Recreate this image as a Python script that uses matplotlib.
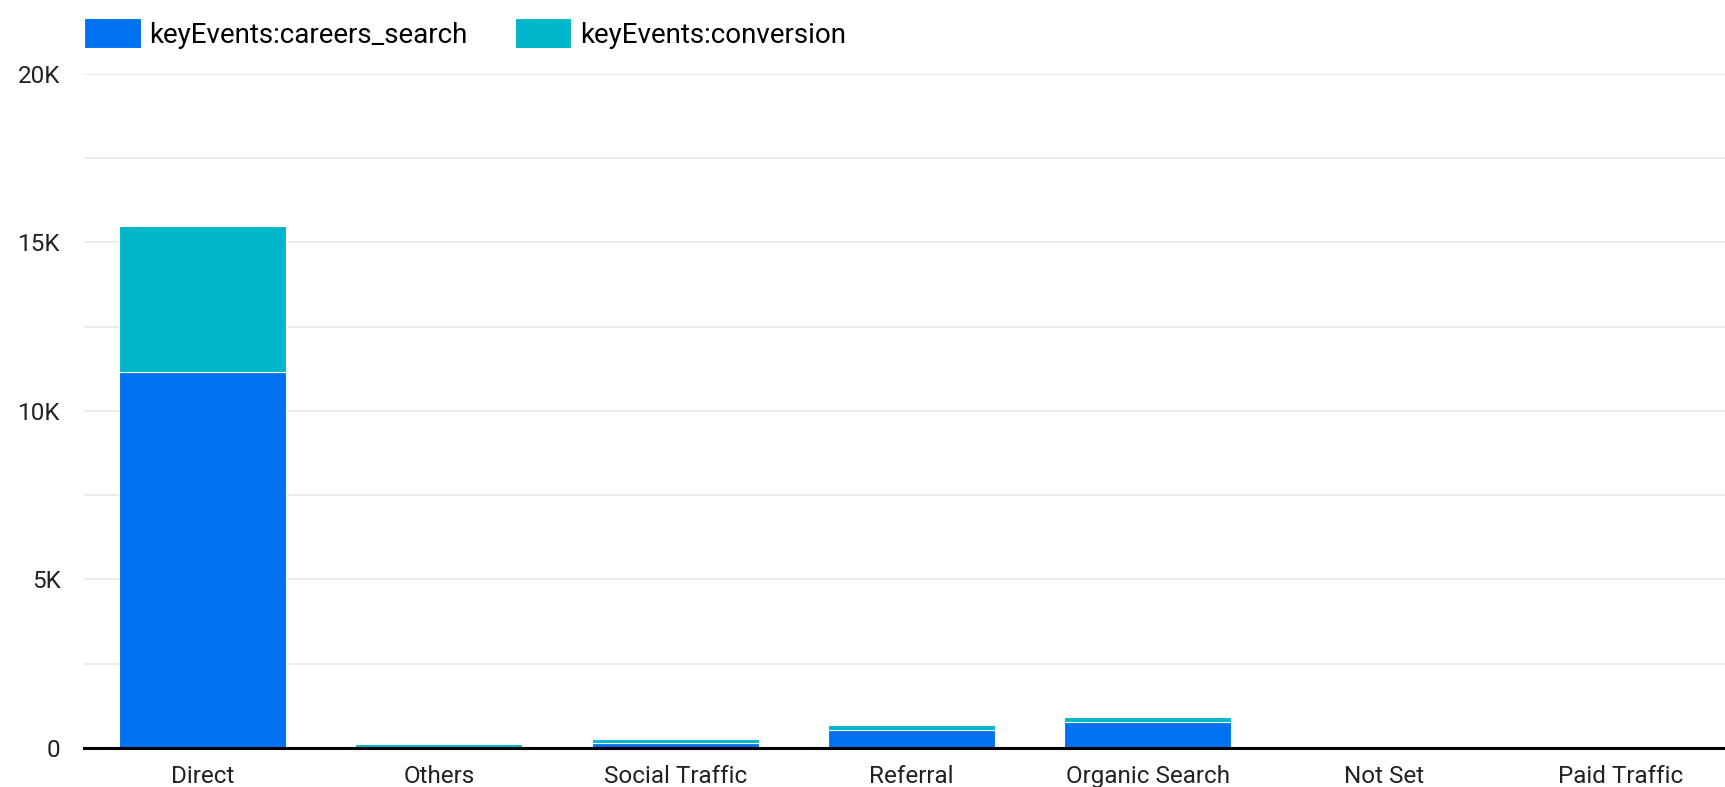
import numpy as np
import matplotlib
matplotlib.use("Agg")
import matplotlib.pyplot as plt
from matplotlib.ticker import FuncFormatter, MultipleLocator

plt.rcParams['font.family'] = ['Roboto', 'DejaVu Sans']

# data
channels = ["Direct", "Others", "Social Traffic", "Referral", "Organic Search", "Not Set", "Paid Traffic"]
careers_search = [11150, 10, 150, 530, 780, 0, 0]
conversion = [4320, 120, 130, 140, 140, 0, 0]
series_names = ["keyEvents:careers_search", "keyEvents:conversion"]

blue = "#0072F0"
cyan = "#00B6CB"

fig = plt.figure(figsize=(17.25, 7.87), dpi=100)
# axis runs a bit past the right edge, like the original
ax = fig.add_axes([0.0489, 0.0496, 0.959, 0.8568])

x = np.arange(len(channels))
b1 = ax.bar(x, careers_search, width=0.708, color=blue, edgecolor="white", linewidth=0.8,
            label=series_names[0], zorder=3)
b2 = ax.bar(x, conversion, width=0.708, bottom=careers_search, color=cyan, edgecolor="white",
            linewidth=0.8, label=series_names[1], zorder=3)

ax.set_xlim(-0.5, len(channels) - 0.5)
ax.set_ylim(0, 20000)
ax.set_xticks(x)
ax.set_xticklabels(channels)
ax.yaxis.set_major_locator(MultipleLocator(5000))
ax.yaxis.set_minor_locator(MultipleLocator(2500))
ax.yaxis.set_major_formatter(FuncFormatter(lambda v, p: "0" if v == 0 else f"{v/1000:.0f}K"))

ax.grid(axis="y", which="both", color="#e9e9e9", linewidth=1.2, zorder=0)
for s in ["top", "right", "left"]:
    ax.spines[s].set_visible(False)
ax.spines["bottom"].set_linewidth(2.2)
ax.spines["bottom"].set_color("black")
ax.spines["bottom"].set_zorder(4)

ax.tick_params(axis="y", which="both", length=0, pad=17, labelsize=17.5, labelcolor="#222222")
ax.tick_params(axis="x", length=0, pad=12.5, labelsize=17.5, labelcolor="#222222")

fig.legend(handles=[b1, b2], labels=series_names, loc="upper left",
           bbox_to_anchor=(0.0485, 0.977), ncol=2, frameon=False, fontsize=20,
           handlelength=2.05, handleheight=1.3, handletextpad=0.3, columnspacing=1.7,
           borderpad=0, borderaxespad=0)

fig.savefig("out.png", dpi=100)
